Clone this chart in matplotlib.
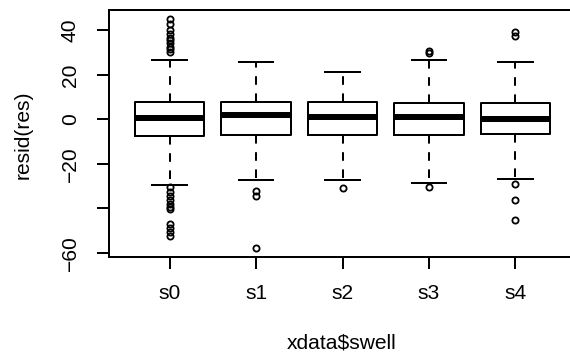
import matplotlib
matplotlib.use("Agg")
import matplotlib.pyplot as plt

plt.rcParams['font.family'] = ['Liberation Sans', 'DejaVu Sans']

# residual summaries per swell level
groups = ['s0', 's1', 's2', 's3', 's4']
q1 = [-7.4, -6.8, -7.2, -7.2, -6.5]
med = [0.7, 2.1, 0.9, 0.9, 0.1]
q3 = [7.9, 7.9, 7.8, 7.3, 7.3]
whis_lo = [-29.4, -27.3, -27.3, -28.6, -27.0]
whis_hi = [26.6, 25.6, 21.4, 26.5, 25.9]
outliers = [
    [45.1, 42.8, 40.4, 38.2, 36.7, 35.6, 34.4, 32.6, 31.5, 30.4,
     -30.4, -32.5, -34.5, -36.3, -38.1, -39.6, -40.4,
     -47.1, -48.7, -50.5, -52.4],
    [-32.2, -34.3, -57.8],
    [-30.7],
    [30.8, 29.9, -30.3],
    [39.1, 37.4, -28.9, -36.4, -45.3],
]

yticks = [-60, -40, -20, 0, 20, 40]
yticklabels = ['\u221260', '', '\u221220', '0', '20', '40']

stats = []
for i, g in enumerate(groups):
    stats.append(dict(label=g, q1=q1[i], med=med[i], q3=q3[i],
                      whislo=whis_lo[i], whishi=whis_hi[i], fliers=outliers[i]))

fig = plt.figure(figsize=(570 / 72, 362 / 72), dpi=72)
ax = fig.add_axes([109 / 570, 105 / 362, 467 / 570, 247 / 362])

lw = 2
ax.bxp(stats, positions=range(1, 6), widths=0.8, capwidths=0.4,
       boxprops=dict(color='black', lw=lw),
       medianprops=dict(color='black', lw=6, solid_capstyle='butt'),
       whiskerprops=dict(color='black', lw=lw, linestyle=(0, (4.3, 4.3))),
       capprops=dict(color='black', lw=lw),
       flierprops=dict(marker='o', markersize=6.2, markerfacecolor='none',
                       markeredgecolor='black', markeredgewidth=1.8))

ax.set_xlim(0.3, 5.7)
ax.set_ylim(-61.9, 49.2)
ax.set_yticks(yticks)
ax.set_yticklabels(yticklabels, rotation=90, va='center')
ax.set_xticks(range(1, 6))
ax.set_xticklabels(groups)
ax.tick_params(axis='both', direction='out', length=12, width=lw,
               labelsize=21, color='black')
ax.tick_params(axis='x', pad=15)
ax.tick_params(axis='y', pad=17)
for sp in ax.spines.values():
    sp.set_linewidth(lw)

fig.text(23 / 570, 1 - 135 / 362, 'resid(res)', rotation=90, fontsize=21,
         ha='center', va='center')
fig.text(342 / 570, 1 - 343 / 362, 'xdata$swell', fontsize=21,
         ha='center', va='center')

fig.savefig('out.png', dpi=72)
